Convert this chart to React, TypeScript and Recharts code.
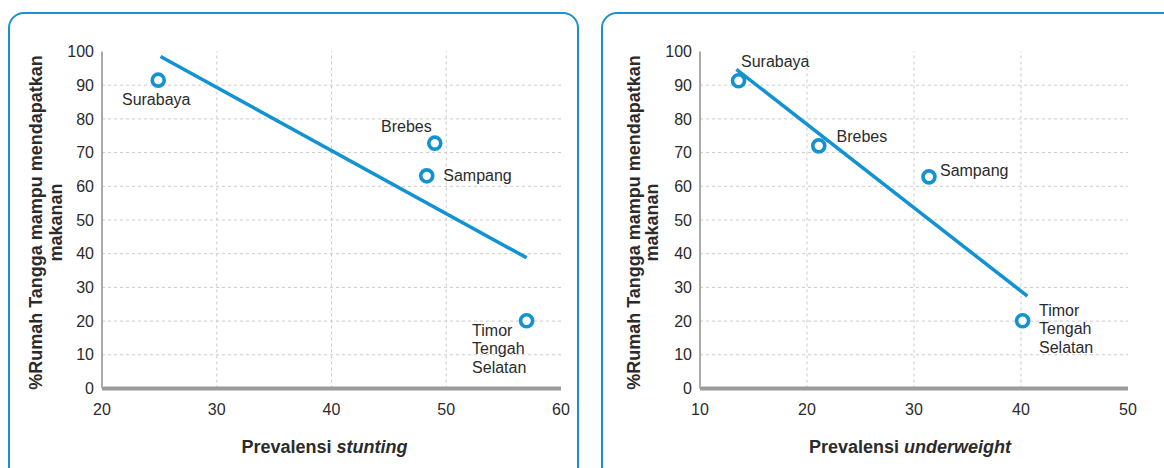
import React from 'react';
import { ScatterChart, Scatter, XAxis, YAxis, ReferenceLine, Label } from 'recharts';

// ---------- data ----------
const regions = ['Surabaya', 'Brebes', 'Sampang', 'Timor Tengah Selatan'];
const stuntingValues = [24.9, 49.0, 48.3, 57.0];
const stuntingFoodValues = [91.5, 72.8, 63.1, 20.1];
const underweightValues = [13.6, 21.1, 31.4, 40.15];
const underweightFoodValues = [91.3, 72.0, 62.8, 20.1];

const stuntingTrendX = [25.1, 57.0];
const stuntingTrendY = [98.5, 38.8];
const underweightTrendX = [13.4, 40.6];
const underweightTrendY = [94.7, 27.4];

const yTicks = [0, 10, 20, 30, 40, 50, 60, 70, 80, 90, 100];
const yGrid = [10, 20, 30, 40, 50, 60, 70, 80, 90];
const stuntingTicks = [20, 30, 40, 50, 60];
const stuntingGrid = [30, 40, 50];
const underweightTicks = [10, 20, 30, 40, 50];
const underweightGrid = [20, 30, 40];

const labelLines: Record<string, string[]> = {
  Surabaya: ['Surabaya'],
  Brebes: ['Brebes'],
  Sampang: ['Sampang'],
  'Timor Tengah Selatan': ['Timor', 'Tengah', 'Selatan'],
};

const yTitleLines = ['%Rumah Tangga mampu mendapatkan', 'makanan'];

// ---------- styles / layout ----------
const BLUE = '#1192d3';
const BORDER = '#1a90d1';
const GRID = '#cbcbcb';
const TEXT = '#2b2b2b';
const FONT = '"Liberation Sans", Arial, Helvetica, sans-serif';

type LabelPos = { dx: number; dy: number; anchor: 'start' | 'middle' | 'end' };

const stuntingLabelPos: Record<string, LabelPos> = {
  Surabaya: { dx: -2, dy: 19.5, anchor: 'middle' },
  Brebes: { dx: -3, dy: -16.5, anchor: 'end' },
  Sampang: { dx: 16.5, dy: 0, anchor: 'start' },
  'Timor Tengah Selatan': { dx: -54.5, dy: 9.5, anchor: 'start' },
};

const underweightLabelPos: Record<string, LabelPos> = {
  Surabaya: { dx: 2.5, dy: -19, anchor: 'start' },
  Brebes: { dx: 17.8, dy: -9.3, anchor: 'start' },
  Sampang: { dx: 11, dy: -6, anchor: 'start' },
  'Timor Tengah Selatan': { dx: 16.4, dy: -10.5, anchor: 'start' },
};

const makePoints = (xs: number[], ys: number[]) =>
  regions.map((name, i) => ({ name, x: xs[i], y: ys[i] }));
const makeTrend = (xs: number[], ys: number[]) => xs.map((x, i) => ({ x, y: ys[i] }));

const PointShape = (props: any, pos: Record<string, LabelPos>) => {
  const { cx, cy } = props;
  const name: string = props.payload?.name ?? props.name;
  const p = pos[name];
  const lines = labelLines[name] || [name];
  return (
    <g>
      <circle cx={cx} cy={cy} r={6} fill="#fff" stroke={BLUE} strokeWidth={3.6} />
      {lines.map((ln, i) => (
        <text
          key={i}
          x={cx + p.dx}
          y={cy + p.dy + i * 18.5}
          textAnchor={p.anchor}
          dominantBaseline="central"
          fontSize={16}
          fill={TEXT}
        >
          {ln}
        </text>
      ))}
    </g>
  );
};

type PanelProps = {
  left: number;
  width: number;
  marginRight: number;
  yAxisWidth: number;
  xDomain: [number, number];
  xTicks: number[];
  xGrid: number[];
  points: { name: string; x: number; y: number }[];
  trend: { x: number; y: number }[];
  labelPos: Record<string, LabelPos>;
  titleMain: string;
  titleItalic: string;
  titleDx: number;
  yTitleOffsets: [number, number];
};

const Panel = (p: PanelProps) => {
  const plotTop = 51.5;
  const plotBottom = 388.5;
  const height = 468;
  return (
    <div style={{ position: 'absolute', left: p.left, top: 0 }}>
      <ScatterChart
        width={p.width}
        height={height}
        margin={{ top: plotTop, right: p.marginRight, bottom: 0, left: 0 }}
      >
        <XAxis
          type="number"
          dataKey="x"
          domain={p.xDomain}
          ticks={p.xTicks}
          interval={0}
          tickLine={false}
          tickSize={6}
          tickMargin={9.5}
          axisLine={{ stroke: '#9b9b9b', strokeWidth: 4 }}
          tick={{ fontSize: 16, fill: TEXT }}
          height={height - plotBottom}
        >
          <Label
            content={(lp: any) => {
              const vb = lp.viewBox || {};
              const cx = vb.x + vb.width / 2 + p.titleDx;
              return (
                <text
                  x={cx}
                  y={446.7}
                  textAnchor="middle"
                  dominantBaseline="central"
                  fontSize={18}
                  fontWeight="bold"
                  fill={TEXT}
                >
                  <tspan>{p.titleMain} </tspan>
                  <tspan fontStyle="italic">{p.titleItalic}</tspan>
                </text>
              );
            }}
          />
        </XAxis>
        <YAxis
          type="number"
          dataKey="y"
          domain={[0, 100]}
          ticks={yTicks}
          interval={0}
          tickLine={false}
          tickSize={6}
          tickMargin={2}
          axisLine={{ stroke: '#ababab', strokeWidth: 2 }}
          tick={{ fontSize: 16, fill: TEXT }}
          width={p.yAxisWidth}
        >
          <Label
            content={() => {
              const cy = 222.5;
              return (
                <g>
                  {yTitleLines.map((t, i) => {
                    const x = p.yAxisWidth - p.yTitleOffsets[i];
                    return (
                      <text
                        key={i}
                        x={x}
                        y={cy}
                        transform={`rotate(-90, ${x}, ${cy})`}
                        textAnchor="middle"
                        dominantBaseline="central"
                        fontSize={18}
                        fontWeight="bold"
                        fill={TEXT}
                      >
                        {t}
                      </text>
                    );
                  })}
                </g>
              );
            }}
          />
        </YAxis>
        {yGrid.map((v) => (
          <ReferenceLine key={'h' + v} y={v} stroke={GRID} strokeDasharray="3 3" strokeWidth={1} />
        ))}
        {p.xGrid.map((v) => (
          <ReferenceLine key={'v' + v} x={v} stroke={GRID} strokeDasharray="3 3" strokeWidth={1} />
        ))}
        <Scatter
          data={p.trend}
          line={{ stroke: BLUE, strokeWidth: 3.5 }}
          shape={() => <g />}
          isAnimationActive={false}
        />
        <Scatter
          data={p.points}
          shape={(sp: any) => PointShape(sp, p.labelPos)}
          isAnimationActive={false}
        />
      </ScatterChart>
    </div>
  );
};

export default function App() {
  return (
    <div
      style={{
        position: 'absolute',
        left: 0,
        top: 0,
        width: 1164,
        height: 468,
        overflow: 'hidden',
        background: '#fff',
        fontFamily: FONT,
      }}
    >
      <div
        style={{
          position: 'absolute',
          left: 8,
          top: 11.5,
          width: 571,
          height: 500,
          border: `2.5px solid ${BORDER}`,
          borderRadius: 16,
          boxSizing: 'border-box',
        }}
      />
      <div
        style={{
          position: 'absolute',
          left: 600.5,
          top: 11.5,
          width: 620,
          height: 500,
          border: `2.5px solid ${BORDER}`,
          borderRadius: 16,
          boxSizing: 'border-box',
        }}
      />
      <Panel
        left={0}
        width={590}
        marginRight={29}
        yAxisWidth={102}
        xDomain={[20, 60]}
        xTicks={stuntingTicks}
        xGrid={stuntingGrid}
        points={makePoints(stuntingValues, stuntingFoodValues)}
        trend={makeTrend(stuntingTrendX, stuntingTrendY)}
        labelPos={stuntingLabelPos}
        titleMain="Prevalensi"
        titleItalic="stunting"
        titleDx={-7}
        yTitleOffsets={[66, 46]}
      />
      <Panel
        left={590}
        width={574}
        marginRight={36}
        yAxisWidth={110}
        xDomain={[10, 50]}
        xTicks={underweightTicks}
        xGrid={underweightGrid}
        points={makePoints(underweightValues, underweightFoodValues)}
        trend={makeTrend(underweightTrendX, underweightTrendY)}
        labelPos={underweightLabelPos}
        titleMain="Prevalensi"
        titleItalic="underweight"
        titleDx={-4}
        yTitleOffsets={[66, 48]}
      />
    </div>
  );
}
